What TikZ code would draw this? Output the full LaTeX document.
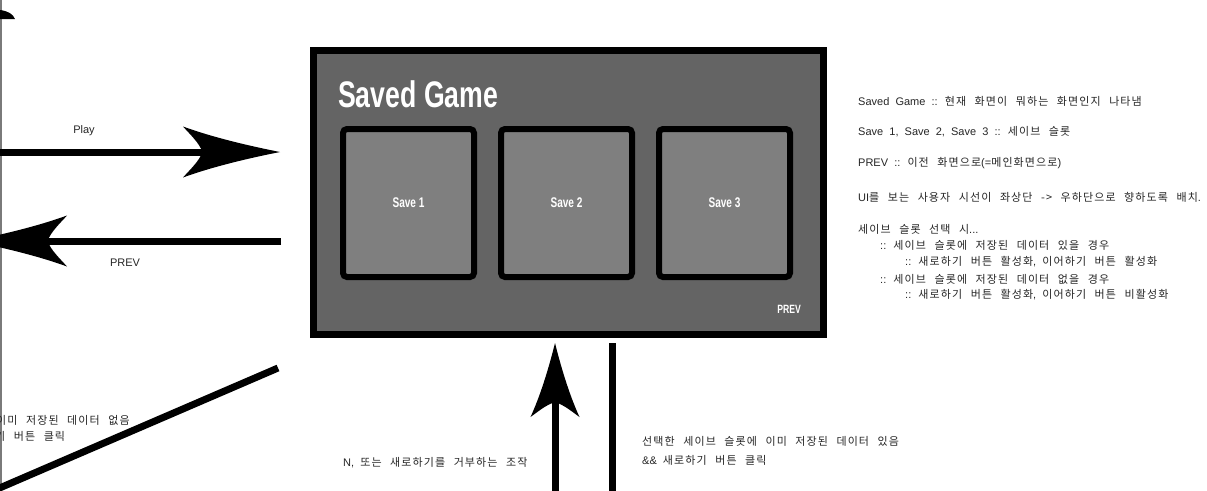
\documentclass[tikz,border=0pt]{standalone}
\usepackage{fontspec}
\setmainfont{Liberation Sans}[WordSpace=2.0]
\newfontfamily\hgfont{Noto Sans CJK KR}[LetterSpace=10, WordSpace=2.4]
\newfontfamily\latinfont{Liberation Sans}[WordSpace=2.0]
\newfontfamily\impactfont[FakeStretch=0.72]{Liberation Sans}
\usetikzlibrary{positioning,arrows.meta}

% Hangul syllables are set in the CJK family
\XeTeXinterchartokenstate=1
\newXeTeXintercharclass\hgclass
\count255="AC00
\loop
  \XeTeXcharclass\count255=\hgclass
  \ifnum\count255<"D7A3 \advance\count255 by 1
\repeat
\XeTeXinterchartoks 0 \hgclass = {\hgfont}
\XeTeXinterchartoks 4095 \hgclass = {\hgfont}
\XeTeXinterchartoks \hgclass 0 = {\latinfont}

% big curved arrow head
\pgfdeclarearrow{
  name = Wing,
  parameters = {\the\pgfarrowlength,\the\pgfarrowwidth},
  setup code = {
    \pgfarrowssettipend{0pt}
    \pgfarrowssetlineend{-0.7\pgfarrowlength}
    \pgfarrowssetvisualbackend{-0.8\pgfarrowlength}
    \pgfarrowssetbackend{-\pgfarrowlength}
    \pgfarrowshullpoint{0pt}{0pt}
    \pgfarrowshullpoint{-\pgfarrowlength}{.5\pgfarrowwidth}
    \pgfarrowshullpoint{-\pgfarrowlength}{-.5\pgfarrowwidth}
    \pgfarrowssavethe\pgfarrowlength
    \pgfarrowssavethe\pgfarrowwidth
  },
  drawing code = {
    \pgfmathsetlengthmacro\aL{\pgfarrowlength}
    \pgfmathsetlengthmacro\aW{.5*\pgfarrowwidth}
    \pgfpathmoveto{\pgfpoint{0pt}{0pt}}
    \pgfpathcurveto{\pgfpoint{-.4*\aL}{.3*\aW}}{\pgfpoint{-.75*\aL}{.65*\aW}}{\pgfpoint{-\aL}{\aW}}
    \pgfpathcurveto{\pgfpoint{-.93*\aL}{.7*\aW}}{\pgfpoint{-.83*\aL}{.35*\aW}}{\pgfpoint{-.8*\aL}{0pt}}
    \pgfpathcurveto{\pgfpoint{-.83*\aL}{-.35*\aW}}{\pgfpoint{-.93*\aL}{-.7*\aW}}{\pgfpoint{-\aL}{-\aW}}
    \pgfpathcurveto{\pgfpoint{-.75*\aL}{-.65*\aW}}{\pgfpoint{-.4*\aL}{-.3*\aW}}{\pgfpoint{0pt}{0pt}}
    \pgfpathclose
    \pgfusepathqfill
  },
  defaults = {length=97pt, width=51pt}
}

\definecolor{screengray}{HTML}{646464}
\definecolor{slotgray}{HTML}{7F7F7F}
\definecolor{edgegray}{HTML}{7A7A7A}

\tikzset{
  screen/.style={draw=black, fill=screengray, line width=7pt, minimum width=510pt, minimum height=284pt, inner sep=0pt},
  slot/.style={draw=black, fill=slotgray, line width=6pt, rounded corners=4pt, minimum width=131pt, minimum height=148pt, inner sep=0pt, text=white, font=\impactfont\bfseries\fontsize{14}{16}\selectfont},
  flow/.style={line width=7pt},
  note/.style={anchor=west, inner sep=0pt, text=black!85, font=\fontsize{11}{13}\selectfont},
}

\begin{document}
\begin{tikzpicture}[x=1pt,y=-1pt]
  \clip (0,0) rectangle (1207,490);
  \useasboundingbox (0,0) rectangle (1207,490);
  \fill[white] (0,0) rectangle (1207,490);

  % edge of the previous screen
  \draw[edgegray, line width=1.5pt] (0.75,0) -- (0.75,490);
  \fill (0,10) .. controls (8,11) and (13,14) .. (15,19) -- (0,19) -- cycle;

  % the screen
  \node[screen] (screen) at (568.5,192.5) {};
  \node[anchor=base west, inner sep=0pt, text=white, font=\impactfont\bfseries\fontsize{37}{40}\selectfont] (title) at (338,107) {Saved Game};
  \node[slot] (save1) at (408.5,203) {Save 1};
  \node[slot, right=21pt of save1] (save2) {Save 2};
  \node[slot, right=21pt of save2] (save3) {Save 3};
  \node[anchor=base east, inner sep=0pt, text=white, font=\impactfont\bfseries\fontsize{12}{14}\selectfont] (prev) at (801,313) {PREV};

  % notes
  \foreach [count=\i] \nx/\ny/\nt in {
      858/101/{Saved Game :: 현재 화면이 뭐하는 화면인지 나타냄},
      858/132/{Save 1, Save 2, Save 3 :: 세이브 슬롯},
      858/163/{PREV :: 이전 화면으로(=메인화면으로)},
      858/197/{UI를 보는 사용자 시선이 좌상단 -> 우하단으로 향하도록 배치.},
      858/229/{세이브 슬롯 선택 시...},
      880/245/{:: 세이브 슬롯에 저장된 데이터 있을 경우},
      905/262/{:: 새로하기 버튼 활성화, 이어하기 버튼 활성화},
      880/279/{:: 세이브 슬롯에 저장된 데이터 없을 경우},
      905/295/{:: 새로하기 버튼 활성화, 이어하기 버튼 비활성화}} {
    \node[note] (note\i) at (\nx,\ny) {\nt};
  }

  % flows
  \coordinate (playL) at (-10,152);
  \coordinate (prevL) at (-30,241);
  \coordinate (upB) at (555,500);
  \coordinate (dnB) at (612,500);
  \coordinate (diagA) at (278,368);
  \coordinate (diagB) at (-12,493);

  \draw[flow, -{Wing[length=97pt,width=51pt]}, shorten >=30pt] (playL) -- (screen.west |- playL);
  \draw[flow, -{Wing[length=97pt,width=51pt]}, shorten <=29pt] (screen.west |- prevL) -- (prevL);
  \draw[flow, -{Wing[length=74pt,width=49pt]}, shorten >=5pt] (upB) -- (screen.south -| upB);
  \draw[flow, shorten <=5pt] (screen.south -| dnB) -- (dnB);
  \draw[flow] (diagA) -- (diagB);

  % labels
  \node[note, anchor=center] (playlbl) at (84,131) {Play};
  \node[note, anchor=center] (prevlbl) at (125,263) {PREV};
  \node[note] (diaglbl1) at (-4,420) {이미 저장된 데이터 없음};
  \node[note] (diaglbl2) at (-5,436) {기 버튼 클릭};
  \node[note] (uplbl) at (343,463) {N, 또는 새로하기를 거부하는 조작};
  \node[note] (dnlbl1) at (642,441) {선택한 세이브 슬롯에 이미 저장된 데이터 있음};
  \node[note] (dnlbl2) at (642,460) {\&\& 새로하기 버튼 클릭};
\end{tikzpicture}
\end{document}
